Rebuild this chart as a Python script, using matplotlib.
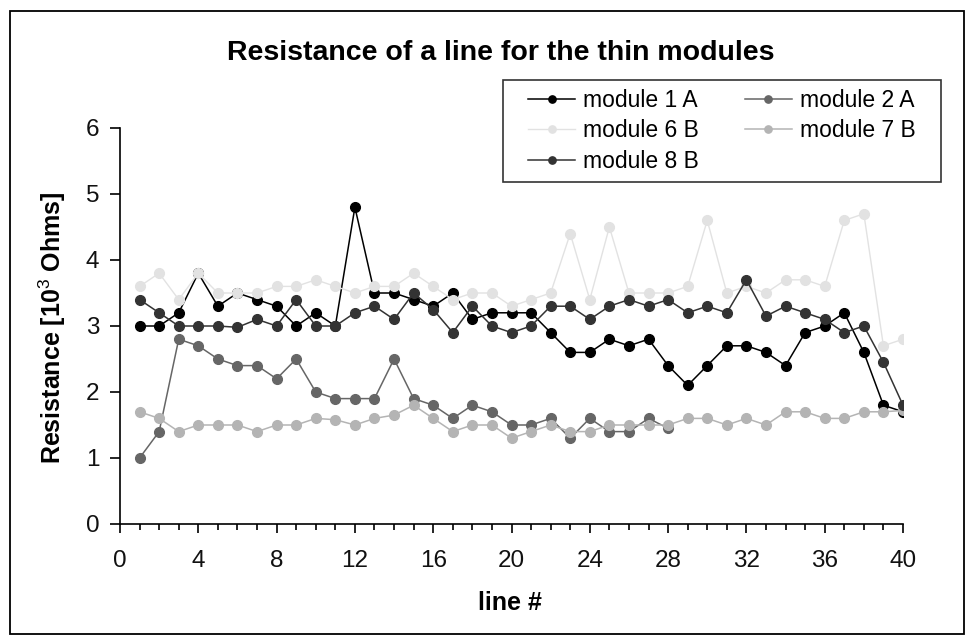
import matplotlib
matplotlib.use('Agg')
import matplotlib.pyplot as plt
from matplotlib.patches import Rectangle
from matplotlib.path import Path
from matplotlib.ticker import MultipleLocator

plt.rcParams['font.family'] = ['Liberation Sans', 'DejaVu Sans']
plt.rcParams['mathtext.fontset'] = 'custom'
plt.rcParams['mathtext.rm'] = 'Liberation Sans'

# resistance per line, in kOhm
lines = list(range(1, 41))
mod1a = [3.0, 3.0, 3.2, 3.8, 3.3, 3.5, 3.4, 3.3, 3.0, 3.2,
         3.0, 4.8, 3.5, 3.5, 3.4, 3.3, 3.5, 3.1, 3.2, 3.2,
         3.2, 2.9, 2.6, 2.6, 2.8, 2.7, 2.8, 2.4, 2.1, 2.4,
         2.7, 2.7, 2.6, 2.4, 2.9, 3.0, 3.2, 2.6, 1.8, 1.7]
mod2a = [1.0, 1.4, 2.8, 2.7, 2.5, 2.4, 2.4, 2.2, 2.5, 2.0,
         1.9, 1.9, 1.9, 2.5, 1.9, 1.8, 1.6, 1.8, 1.7, 1.5,
         1.5, 1.6, 1.3, 1.6, 1.4, 1.4, 1.6, 1.45]
mod6b = [3.6, 3.8, 3.4, 3.8, 3.5, 3.5, 3.5, 3.6, 3.6, 3.7,
         3.6, 3.5, 3.6, 3.6, 3.8, 3.6, 3.4, 3.5, 3.5, 3.3,
         3.4, 3.5, 4.4, 3.4, 4.5, 3.5, 3.5, 3.5, 3.6, 4.6,
         3.5, 3.6, 3.5, 3.7, 3.7, 3.6, 4.6, 4.7, 2.7, 2.8]
mod7b = [1.7, 1.6, 1.4, 1.5, 1.5, 1.5, 1.4, 1.5, 1.5, 1.6,
         1.58, 1.5, 1.6, 1.65, 1.8, 1.6, 1.4, 1.5, 1.5, 1.3,
         1.4, 1.5, 1.4, 1.4, 1.5, 1.5, 1.5, 1.5, 1.6, 1.6,
         1.5, 1.6, 1.5, 1.7, 1.7, 1.6, 1.6, 1.7, 1.7, 1.72]
mod8b = [3.4, 3.2, 3.0, 3.0, 3.0, 2.98, 3.1, 3.0, 3.4, 3.0,
         3.0, 3.2, 3.3, 3.1, 3.5, 3.25, 2.9, 3.3, 3.0, 2.9,
         3.0, 3.3, 3.3, 3.1, 3.3, 3.4, 3.3, 3.4, 3.2, 3.3,
         3.2, 3.7, 3.15, 3.3, 3.2, 3.1, 2.9, 3.0, 2.45, 1.8]


def wide_box(x0, y0, width, height, mutation_size):
    # legend frame with extra room left and right only
    dx = 16
    return Path([(x0 - dx, y0), (x0 + width + dx, y0), (x0 + width + dx, y0 + height),
                 (x0 - dx, y0 + height), (x0 - dx, y0)], closed=True)


fig = plt.figure(figsize=(9.72, 6.37), dpi=100)
ax = fig.add_axes([120/972, 113/637, 783/972, 396/637])

ms = 7
h1, = ax.plot(lines, mod1a, '-o', color='#000000', lw=1.1, ms=ms, label='module 1 A')
h2, = ax.plot(lines[:len(mod2a)], mod2a, '-o', color='#666666', lw=1.1, ms=ms, label='module 2 A')
h6, = ax.plot(lines, mod6b, '-o', color='#e2e2e2', lw=1.0, ms=ms, label='module 6 B')
h7, = ax.plot(lines, mod7b, '-o', color='#b4b4b4', lw=1.1, ms=ms, label='module 7 B')
h8, = ax.plot(lines, mod8b, '-o', color='#333333', lw=1.1, ms=ms, label='module 8 B')

ax.set_xlim(0, 40)
ax.set_ylim(0, 6)
ax.xaxis.set_major_locator(MultipleLocator(4))
ax.xaxis.set_minor_locator(MultipleLocator(1))
ax.yaxis.set_major_locator(MultipleLocator(1))
for s in ['top', 'right']:
    ax.spines[s].set_visible(False)
for s in ['left', 'bottom']:
    ax.spines[s].set_linewidth(1.2)
ax.tick_params(axis='both', which='major', labelsize=17.5, width=1.2, color='black')
ax.tick_params(axis='y', which='major', length=7, pad=8)
ax.tick_params(axis='x', which='major', length=6.5, pad=12)
ax.tick_params(axis='x', which='minor', length=4, width=1.2)
for lab in ax.get_xticklabels() + ax.get_yticklabels():
    lab.set_color('#111111')

# legend filled row by row: 1A 2A / 6B 7B / 8B
leg = ax.legend(handles=[h1, h6, h8, h2, h7], ncol=2, loc='upper left',
                bbox_to_anchor=(519/972, 1 - 80/637), bbox_transform=fig.transFigure,
                borderaxespad=0, fontsize=16.5, frameon=True, fancybox=False,
                edgecolor='black', borderpad=0.4, labelspacing=0.32,
                handlelength=2.05, handletextpad=0.35, columnspacing=2.0,
                markerscale=0.75)
leg.get_frame().set_linewidth(1.2)
leg.get_frame().set_boxstyle(wide_box)

fig.text(501/972, 1 - 53/637, 'Resistance of a line for the thin modules',
         ha='center', va='center', fontsize=20.5, fontweight='bold')
fig.text(510/972, 1 - 603/637, 'line #', ha='center', va='center',
         fontsize=18, fontweight='bold')
fig.text(52/972, 1 - 328/637, 'Resistance [10$^{3}$ Ohms]', ha='center', va='center',
         rotation=90, fontsize=18, fontweight='bold')

# outer chart border
fig.patches.append(Rectangle((10/972, 3/637), 954/972, 623/637, transform=fig.transFigure,
                             fill=False, edgecolor='black', linewidth=1.3))

fig.savefig('out.png', dpi=100)
